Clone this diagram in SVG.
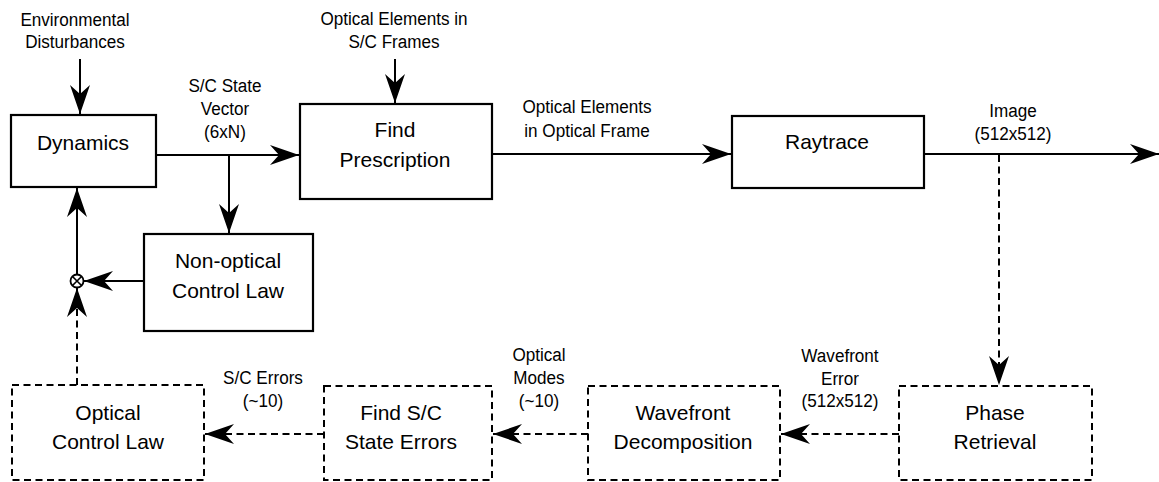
<svg xmlns="http://www.w3.org/2000/svg" width="1159" height="482" viewBox="0 0 1159 482">
<style>
.box{fill:#fff;stroke:#000;stroke-width:2.2}
.dbox{fill:#fff;stroke:#000;stroke-width:2;stroke-dasharray:7 4.5}
.ln{fill:none;stroke:#000;stroke-width:2}
.dln{fill:none;stroke:#000;stroke-width:2;stroke-dasharray:7 4.5}
.t{font-family:"Liberation Sans",Arial,sans-serif;font-size:21px;fill:#000;text-anchor:middle}
.s{font-family:"Liberation Sans",Arial,sans-serif;font-size:19px;fill:#000;text-anchor:middle}
</style>
<defs>
<marker id="ah" viewBox="-29 -10 30 20" refX="0" refY="0" markerWidth="30" markerHeight="20" markerUnits="userSpaceOnUse" orient="auto">
<path d="M0,0 L-29,-10 L-20,0 L-29,10 Z" fill="#000" stroke="none"/>
</marker>
</defs>
<rect width="1159" height="482" fill="#fff"/>

<g id="connectors">
<line class="ln" x1="80" y1="59" x2="80" y2="114" marker-end="url(#ah)"/>
<line class="ln" x1="395" y1="59" x2="395" y2="103" marker-end="url(#ah)"/>
<line class="ln" x1="156" y1="155" x2="299" y2="155" marker-end="url(#ah)"/>
<line class="ln" x1="229" y1="155" x2="229" y2="233" marker-end="url(#ah)"/>
<line class="ln" x1="492" y1="154" x2="731" y2="154" marker-end="url(#ah)"/>
<line class="ln" x1="924" y1="154" x2="1159" y2="154" marker-end="url(#ah)"/>
<line class="dln" x1="999" y1="155" x2="999" y2="385" marker-end="url(#ah)"/>
<line class="ln" x1="144" y1="281" x2="84" y2="281" marker-end="url(#ah)"/>
<line class="ln" x1="77" y1="274" x2="77" y2="188" marker-end="url(#ah)"/>
<line class="dln" x1="77" y1="385" x2="77" y2="288" marker-end="url(#ah)"/>
<line class="dln" x1="899" y1="434" x2="781" y2="434" marker-end="url(#ah)"/>
<line class="dln" x1="588" y1="434" x2="493" y2="434" marker-end="url(#ah)"/>
<line class="dln" x1="324" y1="434" x2="205" y2="434" marker-end="url(#ah)"/>
<g id="sum">
<circle cx="77" cy="281" r="6.5" fill="#fff" stroke="#000" stroke-width="1.8"/>
<path d="M72.5,276.5 L81.5,285.5 M81.5,276.5 L72.5,285.5" stroke="#000" stroke-width="1.6"/>
</g>
</g>

<g id="labels">
<g transform="translate(75,0) scale(0.9,1)"><text class="s" x="0" y="26">Environmental</text><text class="s" x="0" y="48">Disturbances</text></g>
<g transform="translate(394,0) scale(0.9,1)"><text class="s" x="0" y="25">Optical Elements in</text><text class="s" x="0" y="48">S/C Frames</text></g>
<g transform="translate(225,0) scale(0.9,1)"><text class="s" x="0" y="92">S/C State</text><text class="s" x="0" y="115">Vector</text><text class="s" x="0" y="138">(6xN)</text></g>
<g transform="translate(587,0) scale(0.9,1)"><text class="s" x="0" y="113">Optical Elements</text><text class="s" x="0" y="137">in Optical Frame</text></g>
<g transform="translate(1013,0) scale(0.9,1)"><text class="s" x="0" y="117">Image</text><text class="s" x="0" y="140">(512x512)</text></g>
<g transform="translate(840,0) scale(0.9,1)"><text class="s" x="0" y="362">Wavefront</text><text class="s" x="0" y="385">Error</text><text class="s" x="0" y="407">(512x512)</text></g>
<g transform="translate(539,0) scale(0.9,1)"><text class="s" x="0" y="361">Optical</text><text class="s" x="0" y="384">Modes</text><text class="s" x="0" y="407">(~10)</text></g>
<g transform="translate(263,0) scale(0.9,1)"><text class="s" x="0" y="384">S/C Errors</text><text class="s" x="0" y="407">(~10)</text></g>
</g>

<g id="dynamics"><rect class="box" x="11" y="115" width="145" height="72"/><text class="t" x="83" y="150">Dynamics</text></g>
<g id="find-prescription"><rect class="box" x="300" y="104" width="192" height="95"/><text class="t" x="395" y="137">Find</text><text class="t" x="395" y="167">Prescription</text></g>
<g id="raytrace"><rect class="box" x="732" y="116" width="192" height="72"/><text class="t" x="827" y="149">Raytrace</text></g>
<g id="non-optical"><rect class="box" x="144" y="234" width="169" height="97"/><text class="t" x="228" y="268">Non-optical</text><text class="t" x="228" y="298">Control Law</text></g>
<g id="optical-control-law"><rect class="dbox" x="12" y="385" width="192" height="95"/><text class="t" x="108" y="420">Optical</text><text class="t" x="108" y="449">Control Law</text></g>
<g id="find-sc-state-errors"><rect class="dbox" x="324" y="386" width="168" height="94"/><text class="t" x="401" y="420">Find S/C</text><text class="t" x="401" y="449">State Errors</text></g>
<g id="wavefront-decomposition"><rect class="dbox" x="588" y="386" width="192" height="94"/><text class="t" x="683" y="420">Wavefront</text><text class="t" x="683" y="449">Decomposition</text></g>
<g id="phase-retrieval"><rect class="dbox" x="899" y="386" width="193" height="94"/><text class="t" x="995" y="420">Phase</text><text class="t" x="995" y="449">Retrieval</text></g>
</svg>
